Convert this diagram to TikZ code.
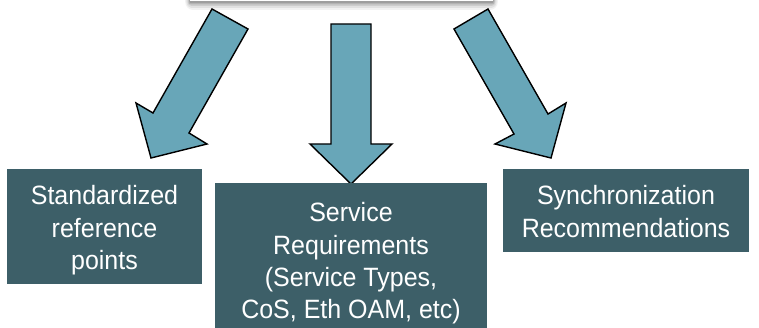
\documentclass[tikz,border=0pt]{standalone}
\usepackage{fontspec}
\usepackage{graphicx}
\setmainfont{Liberation Sans}
\newcommand{\boxtext}[1]{\scalebox{1}[1.06]{\begin{tabular}[t]{@{}c@{}}#1\end{tabular}}}
\begin{document}
\begin{tikzpicture}[x=1pt,y=-1pt,
  blockarrow/.style={fill=arrowfill,draw=black,line width=1.4pt,line join=miter},
  infobox/.style={fill=boxfill,inner sep=0pt},
  infotext/.style={text=white,inner sep=0pt,anchor=base,
    font=\fontsize{25}{30.2}\selectfont}]
\definecolor{arrowfill}{HTML}{68A6B8}
\definecolor{boxfill}{HTML}{3D5F68}
\useasboundingbox (0,0) rectangle (759,328);
% top box shadow
\foreach \k/\o in {8/0.05,6/0.07,4/0.09,2.5/0.11,1.2/0.13}{
  \fill[black,opacity=\o,rounded corners=\k pt] (190-\k*0.6,-20) rectangle (493+\k*0.6,2+\k);
}
\fill[white] (190,-20) rectangle (493,1.5);
% left arrow
\draw[blockarrow] (212,9) -- (248,29) -- (189,133) -- (207,144) -- (151,158)
  -- (136,103) -- (153,113) -- cycle;
% middle arrow
\draw[blockarrow] (331,24) -- (371,24) -- (371,144) -- (392,144) -- (351,184)
  -- (310,144) -- (331,144) -- cycle;
% right arrow
\draw[blockarrow] (488,9) -- (454,29) -- (514,134) -- (495,144) -- (551,158)
  -- (566,103) -- (548,114) -- cycle;
% boxes
\node[infobox,minimum width=195pt,minimum height=115pt] (ref) at (104.5,226.5) {};
\node[infotext] (reftext) at (104.5,205) {\boxtext{Standardized\\reference\\points}};
\node[infobox,minimum width=272pt,minimum height=162pt] (svc) at (351,264) {};
\node[infotext] (svctext) at (351,222) {\boxtext{Service\\Requirements\\(Service Types,\\CoS, Eth OAM, etc)}};
\node[infobox,minimum width=246pt,minimum height=83pt] (sync) at (626,210.5) {};
\node[infotext] (synctext) at (626,205) {\boxtext{Synchronization\\Recommendations}};
\end{tikzpicture}
\end{document}
